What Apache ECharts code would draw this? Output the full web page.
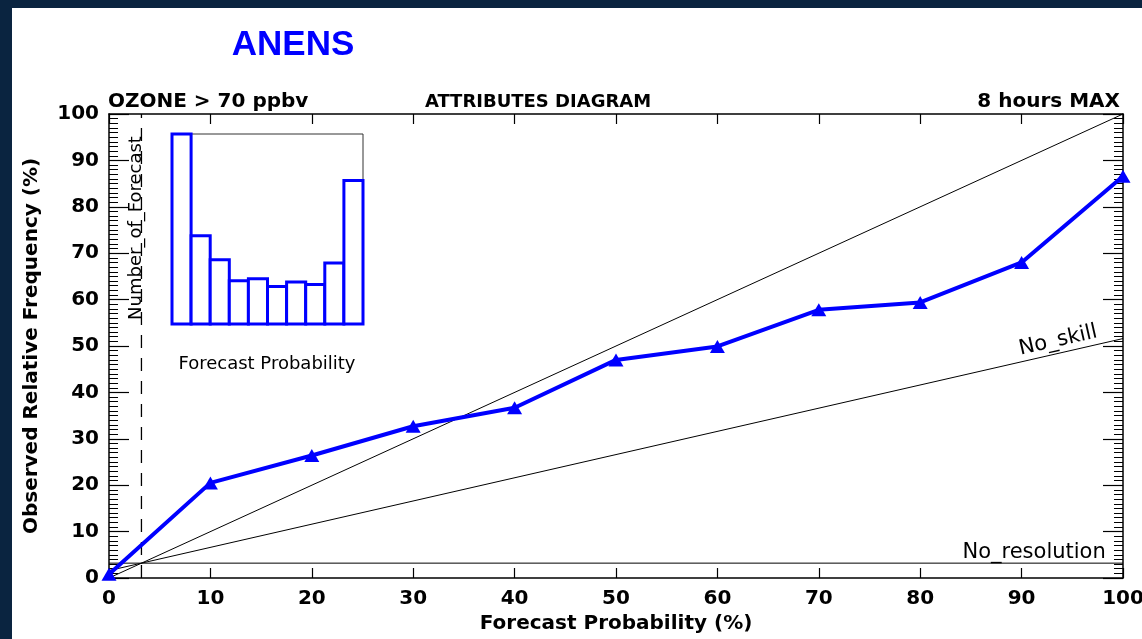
<!DOCTYPE html>
<html>
<head>
<meta charset="utf-8">
<script src="https://cdn.jsdelivr.net/npm/echarts@6/dist/echarts.min.js"></script>
<style>
  html, body { margin: 0; padding: 0; width: 1142px; height: 639px; overflow: hidden; background: #0a2440; }
  #panel { position: absolute; left: 12px; top: 8px; right: 0; bottom: 0; background: #ffffff; }
  #chart { position: absolute; left: 0; top: 0; width: 1142px; height: 639px; }
</style>
</head>
<body>
<div id="panel"></div>
<div id="chart"></div>
<script>
// Reliability curve: forecast probability bins (%) vs observed relative frequency (%)
const forecastProb = [0, 10, 20, 30, 40, 50, 60, 70, 80, 90, 100];
const observedFreq = [0.8, 20.5, 26.4, 32.7, 36.7, 47.0, 49.9, 57.8, 59.4, 68.0, 86.6];

// Sample climatology (%) used for the no-resolution and no-skill reference lines
const climatology = 3.2;

// Sharpness histogram: bin edges (%) and number of forecasts per bin
const binEdges = [0, 10, 20, 30, 40, 50, 60, 70, 80, 90, 100];
const forecastCounts = [1000, 464, 338, 228, 238, 198, 221, 208, 321, 755];

// Header and axis texts
const mainTitle = 'ANENS';
const leftHeader = 'OZONE > 70 ppbv';
const centerHeader = 'ATTRIBUTES DIAGRAM';
const rightHeader = '8 hours MAX';
const xName = 'Forecast Probability (%)';
const yName = 'Observed Relative Frequency (%)';
const insetXName = 'Forecast Probability';
const insetYName = 'Number_of_Forecast';

const BLUE = '#0000ff';
const FONT = 'DejaVu Sans';
const PLOT = { left: 109, top: 114, width: 1014, height: 464 };
const PLOT_RIGHT = PLOT.left + PLOT.width;
const PLOT_BOTTOM = PLOT.top + PLOT.height;

const perfectLine = [[0, 0], [100, 100]];
const noResolution = [[0, climatology], [100, climatology]];
const noSkill = [[0, climatology / 2], [100, (100 + climatology) / 2]];
const climLine = [[climatology, 0], [climatology, 100]];
const reliability = forecastProb.map((p, i) => [p, observedFreq[i]]);
const histogram = forecastCounts.map((c, i) => [binEdges[i], binEdges[i + 1], c]);

const chart = echarts.init(document.getElementById('chart'), null, { renderer: 'canvas' });

const tickLabel = { color: '#000', fontFamily: FONT, fontWeight: 'bold', fontSize: 20 };
const nameStyle = { color: '#000', fontFamily: FONT, fontWeight: 'bold', fontSize: 20 };
const frameLine = { show: true, onZero: false, lineStyle: { color: '#000', width: 1.5 } };
const xTick = { show: true, length: 10, lineStyle: { color: '#000', width: 1.2 } };
const yTick = { show: true, length: 20, lineStyle: { color: '#000', width: 1.2 } };
const yMinor = { show: true, splitNumber: 10, length: 9, lineStyle: { color: '#000', width: 1 } };

function pctAxis(gridIndex, extra) {
  return Object.assign({
    gridIndex, type: 'value', min: 0, max: 100, interval: 10,
    axisLine: { show: false, onZero: false }, axisTick: { show: false },
    axisLabel: { show: false }, splitLine: { show: false }
  }, extra || {});
}
function hiddenAxis(gridIndex) {
  return { gridIndex, type: 'value', min: 0, max: 100, show: false, axisLine: { onZero: false } };
}
function box(left, top, width, height, extra) {
  return Object.assign({ left, top, width, height, outerBoundsMode: 'none', containLabel: false }, extra || {});
}

function refLine(data, extra) {
  return Object.assign({
    type: 'line', data, xAxisIndex: 0, yAxisIndex: 0, symbol: 'none', silent: true,
    lineStyle: { color: '#000', width: 1 }, z: 2
  }, extra || {});
}

chart.setOption({
  animation: false,
  backgroundColor: 'transparent',
  grid: [
    box(PLOT.left, PLOT.top, PLOT.width, PLOT.height),                       // 0 main plot
    box(172, 134, 191, 190, { show: true, borderColor: '#333', borderWidth: 1, backgroundColor: '#fff', z: 3 }), // 1 inset
    box(0, PLOT.top, PLOT.left, PLOT.height),                                // 2 strip left of plot: ticks on its right edge
    box(PLOT_RIGHT, PLOT.top, 1142 - PLOT_RIGHT, PLOT.height),               // 3 strip right of plot: ticks on its left edge
    box(PLOT.left, PLOT_BOTTOM, PLOT.width, 639 - PLOT_BOTTOM),              // 4 strip below plot: ticks on its top edge
    box(PLOT.left, 0, PLOT.width, PLOT.top)                                  // 5 strip above plot: ticks on its bottom edge
  ],
  xAxis: [
    pctAxis(0, {
      position: 'bottom', axisLine: frameLine,
      axisLabel: Object.assign({ show: true, margin: 11 }, tickLabel),
      name: xName, nameLocation: 'middle', nameGap: 34, nameTextStyle: nameStyle
    }),
    pctAxis(0, { position: 'top', axisLine: frameLine }),
    { gridIndex: 1, type: 'value', min: 0, max: 100, show: false, axisLine: { onZero: false } },
    hiddenAxis(2),
    hiddenAxis(3),
    pctAxis(4, { position: 'top', axisTick: xTick }),
    pctAxis(5, { position: 'bottom', axisTick: xTick })
  ],
  yAxis: [
    pctAxis(0, {
      position: 'left', axisLine: frameLine,
      axisLabel: Object.assign({ show: true, margin: 10 }, tickLabel),
      name: yName, nameLocation: 'middle', nameGap: 67, nameRotate: 90, nameTextStyle: nameStyle
    }),
    pctAxis(0, { position: 'right', axisLine: frameLine }),
    { gridIndex: 1, type: 'value', min: 0, max: Math.max(...forecastCounts), show: false, axisLine: { onZero: false } },
    pctAxis(2, { position: 'right', axisTick: yTick, minorTick: yMinor }),
    pctAxis(3, { position: 'left', axisTick: yTick, minorTick: yMinor }),
    hiddenAxis(4),
    hiddenAxis(5)
  ],
  series: [
    refLine(perfectLine),
    refLine(noSkill),
    refLine(noResolution),
    refLine(climLine, { lineStyle: { color: '#000', width: 1.3, type: [13, 10] } }),
    {
      type: 'line', data: reliability, xAxisIndex: 0, yAxisIndex: 0,
      symbol: 'triangle', symbolSize: [15, 13], clip: false,
      itemStyle: { color: BLUE },
      lineStyle: { color: BLUE, width: 4 }, z: 5
    },
    {
      type: 'custom', xAxisIndex: 2, yAxisIndex: 2, data: histogram, z: 6,
      encode: { x: [0, 1], y: 2 },
      renderItem(params, api) {
        const top = api.coord([api.value(0), api.value(2)]);
        const base = api.coord([api.value(1), 0]);
        return {
          type: 'rect',
          shape: { x: top[0], y: top[1], width: base[0] - top[0], height: base[1] - top[1] },
          style: { fill: '#fff', stroke: BLUE, lineWidth: 3 }
        };
      }
    }
  ]
});

// Annotations placed along the reference lines using the chart's own scales
const toPx = (pt) => chart.convertToPixel({ xAxisIndex: 0, yAxisIndex: 0 }, pt);
const resAnchor = toPx([98.3, climatology]);
const skillX = 97.7;
const skillAnchor = toPx([skillX, (skillX + climatology) / 2]);
const skillStart = toPx([0, climatology / 2]);
const skillEnd = toPx([100, (100 + climatology) / 2]);
const skillAngle = Math.atan2(skillStart[1] - skillEnd[1], skillEnd[0] - skillStart[0]);

chart.setOption({
  graphic: [
    { type: 'text', x: 293, y: 45, z: 10,
      style: { text: mainTitle, fill: BLUE, font: 'bold 35px "Liberation Sans"', align: 'center', verticalAlign: 'middle' } },
    { type: 'text', x: 108, y: 102, z: 10,
      style: { text: leftHeader, fill: '#000', font: 'bold 20px "DejaVu Sans"', align: 'left', verticalAlign: 'middle' } },
    { type: 'text', x: 538, y: 102, z: 10,
      style: { text: centerHeader, fill: '#000', font: 'bold 18px "DejaVu Sans"', align: 'center', verticalAlign: 'middle' } },
    { type: 'text', x: 1120, y: 102, z: 10,
      style: { text: rightHeader, fill: '#000', font: 'bold 20px "DejaVu Sans"', align: 'right', verticalAlign: 'middle' } },
    { type: 'text', x: 267, y: 364, z: 10,
      style: { text: insetXName, fill: '#000', font: '18px "DejaVu Sans"', align: 'center', verticalAlign: 'middle' } },
    { type: 'text', x: 136, y: 228, rotation: Math.PI / 2, z: 10,
      style: { text: insetYName, fill: '#000', font: '18px "DejaVu Sans"', align: 'center', verticalAlign: 'middle' } },
    { type: 'text', x: resAnchor[0], y: resAnchor[1] - 11, z: 10,
      style: { text: 'No_resolution', fill: '#000', font: '21px "DejaVu Sans"', align: 'right', verticalAlign: 'middle' } },
    { type: 'text', x: skillAnchor[0], y: skillAnchor[1], rotation: skillAngle, z: 10,
      style: { text: 'No_skill', x: 0, y: -2, fill: '#000', font: '21px "DejaVu Sans"', align: 'right', verticalAlign: 'bottom' } }
  ]
});
</script>
</body>
</html>
